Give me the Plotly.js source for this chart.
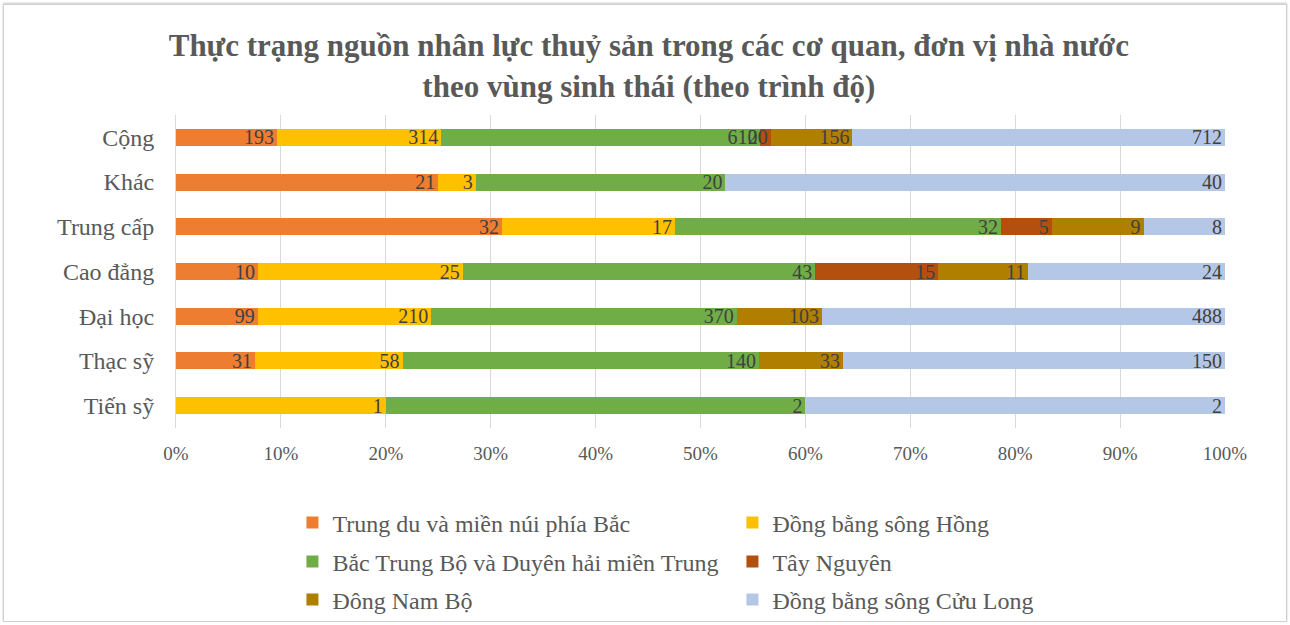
<!DOCTYPE html>
<html>
<head>
<meta charset="utf-8">
<script src="https://cdn.plot.ly/plotly-3.0.1.min.js"></script>
<style>
  html, body { margin: 0; padding: 0; background: #ffffff; }
  #wrap { position: relative; width: 1290px; height: 625px; overflow: hidden; }
  #chart { position: absolute; left: 0; top: 0; width: 1290px; height: 625px; }
  #frame { position: absolute; left: 3px; top: 4px; width: 1282px; height: 616px;
           border: 1px solid #d0d0d0; box-shadow: 0 -1px 2px #c8c8c8; pointer-events: none; }
</style>
</head>
<body>
<div id="wrap">
  <div id="chart"></div>
  <div id="frame"></div>
</div>
<script>
// Categories, bottom to top
const categories = ['Tiến sỹ', 'Thạc sỹ', 'Đại học', 'Cao đẳng', 'Trung cấp', 'Khác', 'Cộng'];

// Series (values in same order as categories)
const seriesNames = [
  'Trung du và miền núi phía Bắc',
  'Đồng bằng sông Hồng',
  'Bắc Trung Bộ và Duyên hải miền Trung',
  'Tây Nguyên',
  'Đông Nam Bộ',
  'Đồng bằng sông Cửu Long'
];
const trungDu      = [0, 31, 99, 10, 32, 21, 193];
const dbSongHong   = [1, 58, 210, 25, 17, 3, 314];
const bacTrungBo   = [2, 140, 370, 43, 32, 20, 610];
const tayNguyen    = [0, 0, 0, 15, 5, 0, 20];
const dongNamBo    = [0, 33, 103, 11, 9, 0, 156];
const dbSongCuuLong= [2, 150, 488, 24, 8, 40, 712];

const seriesValues = [trungDu, dbSongHong, bacTrungBo, tayNguyen, dongNamBo, dbSongCuuLong];
const seriesColors = ['#ED7D31', '#FFC000', '#70AD47', '#B4500F', '#B07F00', '#B4C7E7'];
const legendRows   = ['legend', 'legend', 'legend2', 'legend2', 'legend3', 'legend3'];

const xTickVals = [0, 10, 20, 30, 40, 50, 60, 70, 80, 90, 100];

const FONT = 'Liberation Serif, Times New Roman, serif';

const traces = seriesNames.map((name, i) => ({
  type: 'bar',
  orientation: 'h',
  name: name,
  legend: legendRows[i],
  y: categories,
  x: seriesValues[i],
  text: seriesValues[i].map(String),
  textposition: 'inside',
  insidetextanchor: 'end',
  textangle: 0,
  constraintext: 'none',
  textfont: { family: FONT, size: 20, color: '#404040' },
  marker: { color: seriesColors[i], line: { width: 0 } },
  hoverinfo: 'name+x'
}));

function legendAt(y) {
  return {
    orientation: 'h',
    x: 0.111,
    xanchor: 'left',
    y: y,
    yref: 'container',
    yanchor: 'middle',
    entrywidth: 395,
    entrywidthmode: 'pixels',
    traceorder: 'normal',
    font: { family: FONT, size: 24, color: '#595959' },
    bgcolor: 'rgba(0,0,0,0)'
  };
}

const layout = {
  width: 1290,
  height: 625,
  paper_bgcolor: 'rgba(0,0,0,0)',
  plot_bgcolor: 'rgba(0,0,0,0)',
  barmode: 'stack',
  barnorm: 'percent',
  bargap: 0.62,
  margin: { l: 176, r: 65, t: 115, b: 197, autoexpand: false },
  title: {
    text: 'Thực trạng nguồn nhân lực thuỷ sản trong các cơ quan, đơn vị nhà nước<br>theo vùng sinh thái (theo trình độ)',
    font: { family: FONT, size: 31, color: '#595959', weight: 'bold' },
    x: 0.503,
    xref: 'container',
    xanchor: 'center',
    y: 0.91,
    yref: 'container',
    yanchor: 'top'
  },
  xaxis: {
    range: [0, 100],
    tickvals: xTickVals,
    ticktext: xTickVals.map(v => v + '%'),
    showgrid: true,
    gridcolor: '#D9D9D9',
    gridwidth: 1,
    zeroline: false,
    showline: false,
    ticks: '',
    ticklabelstandoff: 12,
    tickfont: { family: FONT, size: 19, color: '#595959' },
    fixedrange: true
  },
  yaxis: {
    type: 'category',
    categoryorder: 'array',
    categoryarray: categories,
    showgrid: false,
    zeroline: false,
    showline: true,
    linecolor: '#D9D9D9',
    ticks: '',
    ticklabelstandoff: 16,
    tickfont: { family: FONT, size: 24, color: '#595959' },
    fixedrange: true
  },
  showlegend: true,
  legend: legendAt(0.1632),
  legend2: legendAt(0.1008),
  legend3: legendAt(0.04)
};

Plotly.newPlot('chart', traces, layout, { displayModeBar: false, staticPlot: true });
</script>
</body>
</html>
